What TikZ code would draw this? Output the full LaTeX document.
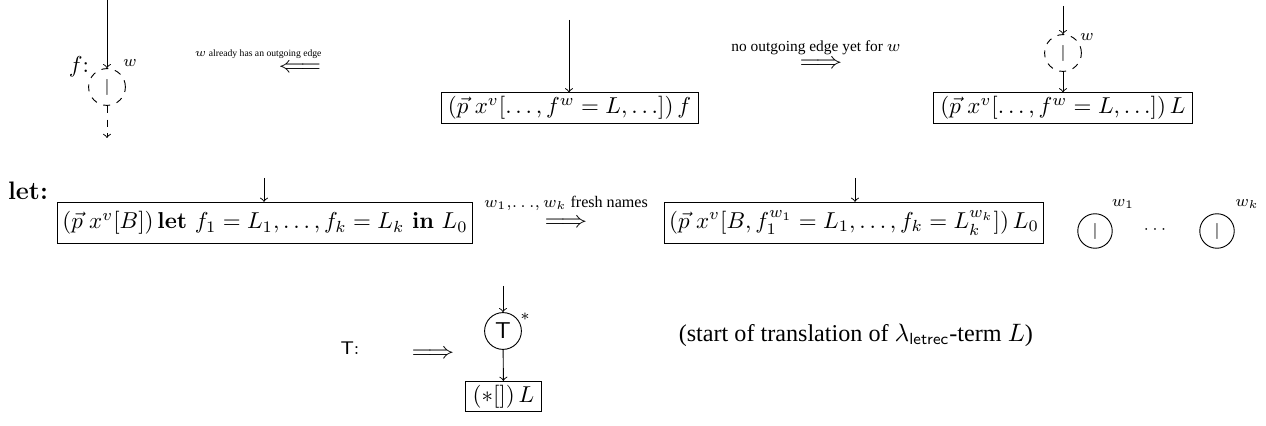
\documentclass[tikz,border=0pt]{standalone}
\usepackage[no-math]{fontspec}
\newfontfamily\tms{Liberation Serif}
\newcommand{\Rarr}{\scalebox{1.15}[1]{$\Longrightarrow$}}
\newcommand{\Larr}{\scalebox{1.15}[1]{$\Longleftarrow$}}
\begin{document}
\begin{tikzpicture}[x=0.4348pt,y=-0.4348pt,
  tbox/.style={draw, inner xsep=3pt, inner ysep=1.6pt},
  vnode/.style={circle, draw, minimum size=16pt, inner sep=0pt},
  dnode/.style={vnode, dashed},
  vsmall/.style={circle, draw, minimum size=15pt, inner sep=0pt},
  lbl/.style={inner sep=1pt},
  edge/.style={->}]
\useasboundingbox (0,0) rectangle (1266,426);
% top left
\coordinate (c1in) at (107,0);
\node[dnode] (c1) at (107,87) {\scriptsize$|$};
\coordinate (c1out) at (107,138);
\draw[edge] (c1in) -- (c1);
\draw[edge,dashed] (c1) -- (c1out);
\node[lbl] (f) at (79,67) {$f$:};
\node[lbl] (w1) at (130,63) {\scriptsize$w$};
\node[lbl] (l1) at (258,54) {\fontsize{4.2}{5}\selectfont\tms $w$ already has an outgoing edge};
\node[lbl] (a1) at (300,68) {\Larr};
% top middle
\coordinate (b1in) at (569,20);
\node[tbox] (b1) at (569.5,108) {$(\vec p\;x^v[\ldots,f^w = L,\ldots])\,f$};
\draw[edge] (b1in) -- (b1in |- b1.north);
% top right label
\node[lbl] (l2) at (816,48) {\fontsize{6.7}{8}\selectfont\tms no outgoing edge yet for $w$};
\node[lbl] (a2) at (821,64) {\Rarr};
% top right
\coordinate (c2in) at (1063,6);
\node[dnode] (c2) at (1063,53) {\scriptsize$|$};
\node[tbox] (b2) at (1063,108) {$(\vec p\;x^v[\ldots,f^w = L,\ldots])\,L$};
\draw[edge] (c2in) -- (c2);
\draw[edge] (c2) -- (b2);
\node[lbl] (w2) at (1087,37) {\scriptsize$w$};
% let row
\node[lbl] (let) at (28,191) {\fontsize{11}{13}\selectfont\textbf{let:}};
\node[tbox, inner xsep=2pt, minimum height=18pt] (b3) at (265,223) {$(\vec p\;x^v[B])\,\mathbf{let}\ f_1 = L_1,\ldots,f_k = L_k\ \mathbf{in}\ L_0$};
\coordinate (b3in) at (264,178);
\draw[edge] (b3in) -- (b3in |- b3.north);
\node[lbl] (l3) at (566,203) {\scriptsize\tms $w_1,\!\ldots\!,w_k$ fresh names};
\node[lbl] (a3) at (566,223) {\Rarr};
\node[tbox, inner xsep=2pt, minimum height=18pt] (b4) at (854,223) {$(\vec p\;x^v[B, f_1^{w_1} = L_1,\ldots,f_k = L_k^{w_k}])\,L_0$};
\coordinate (b4in) at (855,178);
\draw[edge] (b4in) -- (b4in |- b4.north);
\node[vsmall] (c3) at (1095,231) {\scriptsize$|$};
\node[lbl] (w3) at (1123,204) {\scriptsize$w_1$};
\node[lbl] (dots) at (1155,230) {\scriptsize$\cdots$};
\node[vsmall] (c4) at (1217,231) {\scriptsize$|$};
\node[lbl] (w4) at (1247,204) {\scriptsize$w_k$};
% bottom
\node[lbl] (T) at (350,348) {\footnotesize\textsf{T}:};
\node[lbl] (a4) at (433,354) {\Rarr};
\coordinate (c5in) at (503,286);
\node[vnode] (c5) at (503,331) {\textsf{T}};
\node[lbl] (st) at (525,317) {\scriptsize$*$};
\node[tbox] (b5) at (503.5,396.5) {$(*[])\,L$};
\draw[edge] (c5in) -- (c5);
\draw[edge] (c5) -- (b5);
\node[lbl, anchor=west] (txt) at (676,335) {\fontsize{10.5}{12}\selectfont\tms (start of translation of $\lambda_{\mathsf{letrec}}$-term $L$)};
\end{tikzpicture}
\end{document}
